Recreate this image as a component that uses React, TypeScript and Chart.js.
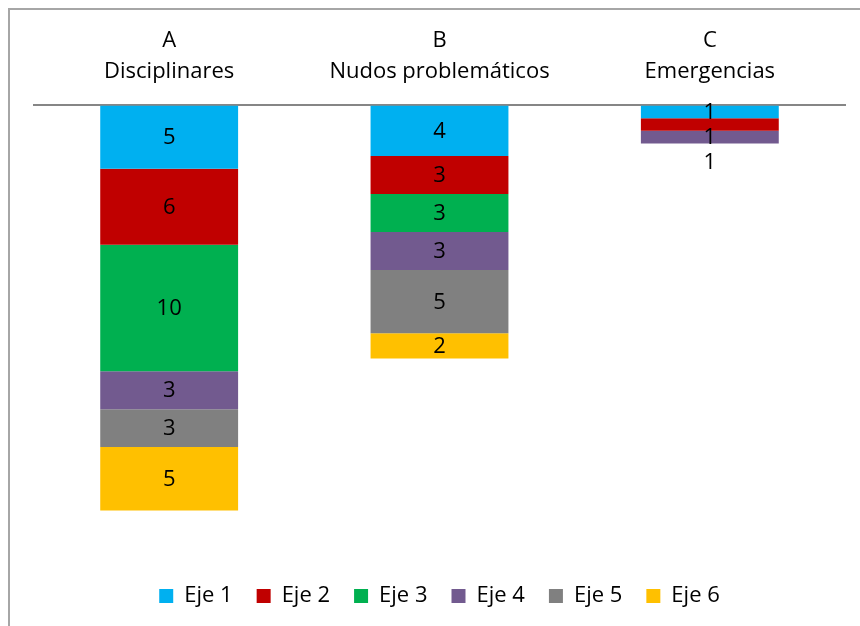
import React, { useEffect, useRef } from "react";
import { Chart, registerables } from "chart.js";

Chart.register(...registerables);

const categories: string[][] = [
  ["A", "Disciplinares"],
  ["B", "Nudos problemáticos"],
  ["C", "Emergencias"],
];
const seriesNames = ["Eje 1", "Eje 2", "Eje 3", "Eje 4", "Eje 5", "Eje 6"];
const eje1 = [5, 4, 1];
const eje2 = [6, 3, 1];
const eje3 = [10, 3, null];
const eje4 = [3, 3, 1];
const eje5 = [3, 5, null];
const eje6 = [5, 2, null];
const seriesColors = ["#00B0F0", "#C00000", "#00B050", "#725A8F", "#808080", "#FFC000"];

const FONT = "'Open Sans', 'Noto Sans', sans-serif";

const labelPlugin = {
  id: "stackLabels",
  afterDatasetsDraw(chart: any) {
    const ctx = chart.ctx;
    ctx.save();
    ctx.font = `22px ${FONT}`;
    ctx.fillStyle = "#000";
    ctx.textAlign = "center";
    ctx.textBaseline = "middle";
    const nCat = chart.data.labels.length;
    for (let i = 0; i < nCat; i++) {
      let prevY = -Infinity;
      chart.data.datasets.forEach((ds: any, di: number) => {
        const v = ds.data[i];
        if (v === null || v === undefined || v === 0) return;
        const meta = chart.getDatasetMeta(di);
        const el = meta.data[i];
        if (!el) return;
        const props = el.getProps(["x", "y", "base"], true);
        let y = (props.y + props.base) / 2 + 1;
        if (y < prevY + 25) y = prevY + 25;
        prevY = y;
        ctx.fillText(String(v), props.x, y);
      });
    }
    ctx.restore();
  },
};

export default function App() {
  const ref = useRef<HTMLCanvasElement | null>(null);
  useEffect(() => {
    if (!ref.current) return;
    const all = [eje1, eje2, eje3, eje4, eje5, eje6];
    const chart = new Chart(ref.current, {
      type: "bar",
      data: {
        labels: categories,
        datasets: all.map((d, i) => ({
          label: seriesNames[i],
          data: d,
          backgroundColor: seriesColors[i],
          borderWidth: 0,
          barPercentage: 0.51,
          categoryPercentage: 1,
        })),
      },
      options: {
        responsive: false,
        animation: false,
        layout: { padding: { top: 7, left: 34, right: 15, bottom: 9 } },
        scales: {
          x: {
            position: "top",
            stacked: true,
            grid: { display: false, drawTicks: false },
            border: { display: true, color: "#868686", width: 2 },
            ticks: {
              color: "#000",
              font: { family: FONT, size: 22, lineHeight: 1.42 },
              padding: 18,
              maxRotation: 0,
              autoSkip: false,
            },
          },
          y: {
            display: false,
            stacked: true,
            reverse: true,
            min: 0,
            max: 36.0,
          },
        },
        plugins: {
          legend: {
            position: "bottom",
            labels: {
              color: "#000",
              font: { family: FONT, size: 22 },
              boxWidth: 14,
              boxHeight: 14,
              padding: 24,
            },
          },
          tooltip: { enabled: false },
        },
      },
      plugins: [labelPlugin],
    });
    return () => chart.destroy();
  }, []);
  return (
    <div style={{ position: "fixed", left: 0, top: 0, width: 860, height: 626, overflow: "hidden", background: "#fff" }}>
      <canvas ref={ref} width={860} height={626} style={{ position: "absolute", left: 0, top: 0 }} />
      <div
        style={{
          position: "absolute",
          left: 8,
          top: 8,
          width: 900,
          height: 700,
          border: "2px solid #a6a6a6",
          pointerEvents: "none",
        }}
      />
    </div>
  );
}
